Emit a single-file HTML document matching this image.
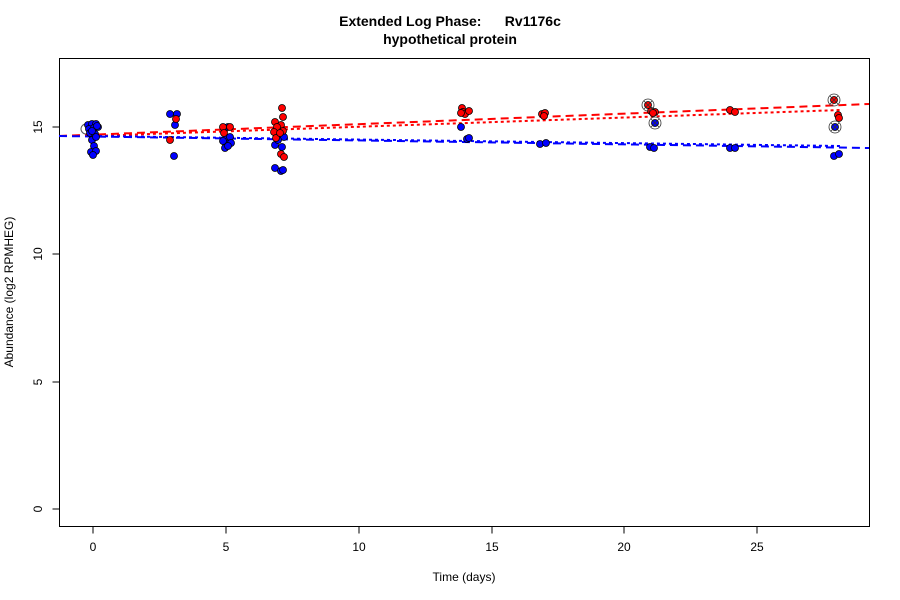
<!DOCTYPE html>
<html><head><meta charset="utf-8"><style>body{margin:0;background:#fff}svg{display:block}text{font-family:"Liberation Sans",sans-serif}</style></head><body>
<svg width="900" height="600" viewBox="0 0 900 600" xmlns="http://www.w3.org/2000/svg">
<rect width="900" height="600" fill="#fff"/>
<text x="450" y="26" text-anchor="middle" font-size="14" font-weight="bold" xml:space="preserve">Extended Log Phase:      Rv1176c</text>
<text x="450" y="44" text-anchor="middle" font-size="14" font-weight="bold">hypothetical protein</text>
<rect x="59.5" y="58.5" width="810" height="468" fill="none" stroke="#000"/>
<g stroke="#000" fill="none">
<path d="M93 526.5v7M226 526.5v7M359 526.5v7M492 526.5v7M624 526.5v7M757 526.5v7"/>
<path d="M59.5 509h-7M59.5 382h-7M59.5 254h-7M59.5 127h-7"/>
</g>
<g font-size="12" text-anchor="middle">
<text x="93" y="551">0</text><text x="226" y="551">5</text><text x="359" y="551">10</text><text x="492" y="551">15</text><text x="624" y="551">20</text><text x="757" y="551">25</text>
<text transform="translate(42,509) rotate(-90)">0</text>
<text transform="translate(42,382) rotate(-90)">5</text>
<text transform="translate(42,254) rotate(-90)">10</text>
<text transform="translate(42,127) rotate(-90)">15</text>
<text x="464" y="581">Time  (days)</text>
<text transform="translate(13,292) rotate(-90)">Abundance  (log2 RPMHEG)</text>
</g>
<g stroke-width="2" fill="none">
<line x1="59" y1="136" x2="869" y2="104" stroke="#f00" stroke-dasharray="8,5"/>
<line x1="93" y1="136" x2="841" y2="110" stroke="#f00" stroke-dasharray="3,3"/>
<line x1="59" y1="136" x2="869" y2="148" stroke="#00f" stroke-dasharray="8,5"/>
<line x1="93" y1="136" x2="841" y2="146" stroke="#00f" stroke-dasharray="3,3"/>
</g>
<circle cx="86" cy="129" r="5" fill="none" stroke="#555"/>
<g stroke="#000" stroke-width="0.8" fill="#00f">
<circle cx="88" cy="125" r="3.5"/><circle cx="92" cy="124" r="3.5"/><circle cx="96" cy="124" r="3.5"/><circle cx="89" cy="129" r="3.5"/><circle cx="94" cy="128" r="3.5"/><circle cx="98" cy="127" r="3.5"/><circle cx="90" cy="133" r="3.5"/><circle cx="95" cy="134" r="3.5"/><circle cx="92" cy="140" r="3.5"/><circle cx="94" cy="146" r="3.5"/><circle cx="91" cy="152" r="3.5"/><circle cx="96" cy="151" r="3.5"/><circle cx="93" cy="155" r="3.5"/><circle cx="97" cy="126" r="3.5"/><circle cx="92" cy="131" r="3.5"/><circle cx="96" cy="137" r="3.5"/>
<circle cx="170" cy="114" r="3.5"/><circle cx="177" cy="114" r="3.5"/><circle cx="175" cy="125" r="3.5"/><circle cx="174" cy="156" r="3.5"/>
<circle cx="228" cy="127" r="3.5"/><circle cx="226" cy="138" r="3.5"/><circle cx="230" cy="137" r="3.5"/><circle cx="226" cy="144" r="3.5"/><circle cx="231" cy="143" r="3.5"/><circle cx="225" cy="148" r="3.5"/><circle cx="228" cy="146" r="3.5"/><circle cx="223" cy="141" r="3.5"/>
<circle cx="279" cy="126" r="3.5"/><circle cx="278" cy="131" r="3.5"/><circle cx="284" cy="137" r="3.5"/><circle cx="275" cy="145" r="3.5"/><circle cx="282" cy="147" r="3.5"/><circle cx="278" cy="140" r="3.5"/><circle cx="275" cy="168" r="3.5"/><circle cx="281" cy="171" r="3.5"/><circle cx="283" cy="170" r="3.5"/>
<circle cx="461" cy="127" r="3.5"/><circle cx="467" cy="139" r="3.5"/><circle cx="469" cy="138" r="3.5"/>
<circle cx="540" cy="144" r="3.5"/><circle cx="546" cy="143" r="3.5"/>
<circle cx="650" cy="147" r="3.5"/><circle cx="654" cy="148" r="3.5"/>
<circle cx="730" cy="148" r="3.5"/><circle cx="735" cy="148" r="3.5"/>
<circle cx="834" cy="156" r="3.5"/><circle cx="839" cy="154" r="3.5"/>
<circle cx="655" cy="123" r="3.5"/><circle cx="835" cy="127" r="3.5"/>
</g>
<g stroke="#000" stroke-width="0.8" fill="#f00">
<circle cx="176" cy="119" r="3.5"/><circle cx="170" cy="140" r="3.5"/>
<circle cx="223" cy="127" r="3.5"/><circle cx="230" cy="127" r="3.5"/><circle cx="224" cy="133" r="3.5"/>
<circle cx="282" cy="108" r="3.5"/><circle cx="283" cy="117" r="3.5"/><circle cx="275" cy="122" r="3.5"/><circle cx="281" cy="125" r="3.5"/><circle cx="277" cy="127" r="3.5"/><circle cx="283" cy="131" r="3.5"/><circle cx="274" cy="132" r="3.5"/><circle cx="276" cy="138" r="3.5"/><circle cx="280" cy="133" r="3.5"/><circle cx="281" cy="154" r="3.5"/><circle cx="284" cy="157" r="3.5"/>
<circle cx="462" cy="108" r="3.5"/><circle cx="463" cy="112" r="3.5"/><circle cx="465" cy="114" r="3.5"/><circle cx="469" cy="111" r="3.5"/><circle cx="461" cy="113" r="3.5"/>
<circle cx="542" cy="114" r="3.5"/><circle cx="545" cy="113" r="3.5"/><circle cx="544" cy="116" r="3.5"/>
<circle cx="651" cy="111" r="3.5"/><circle cx="655" cy="112" r="3.5"/><circle cx="653" cy="113" r="3.5"/>
<circle cx="730" cy="110" r="3.5"/><circle cx="735" cy="112" r="3.5"/>
<circle cx="838" cy="115" r="3.5"/><circle cx="839" cy="118" r="3.5"/>
<circle cx="648" cy="105" r="3.5"/><circle cx="834" cy="100" r="3.5"/>
</g>
<g stroke="#333" stroke-width="0.8" fill="none">
<circle cx="648" cy="105" r="6"/><circle cx="834" cy="100" r="6"/><circle cx="655" cy="123" r="6"/><circle cx="835" cy="127" r="6"/>
<path d="M644 101l8 8M652 101l-8 8M830 96l8 8M838 96l-8 8M651 119l8 8M659 119l-8 8M831 123l8 8M839 123l-8 8"/>
</g>
</svg>
</body></html>
